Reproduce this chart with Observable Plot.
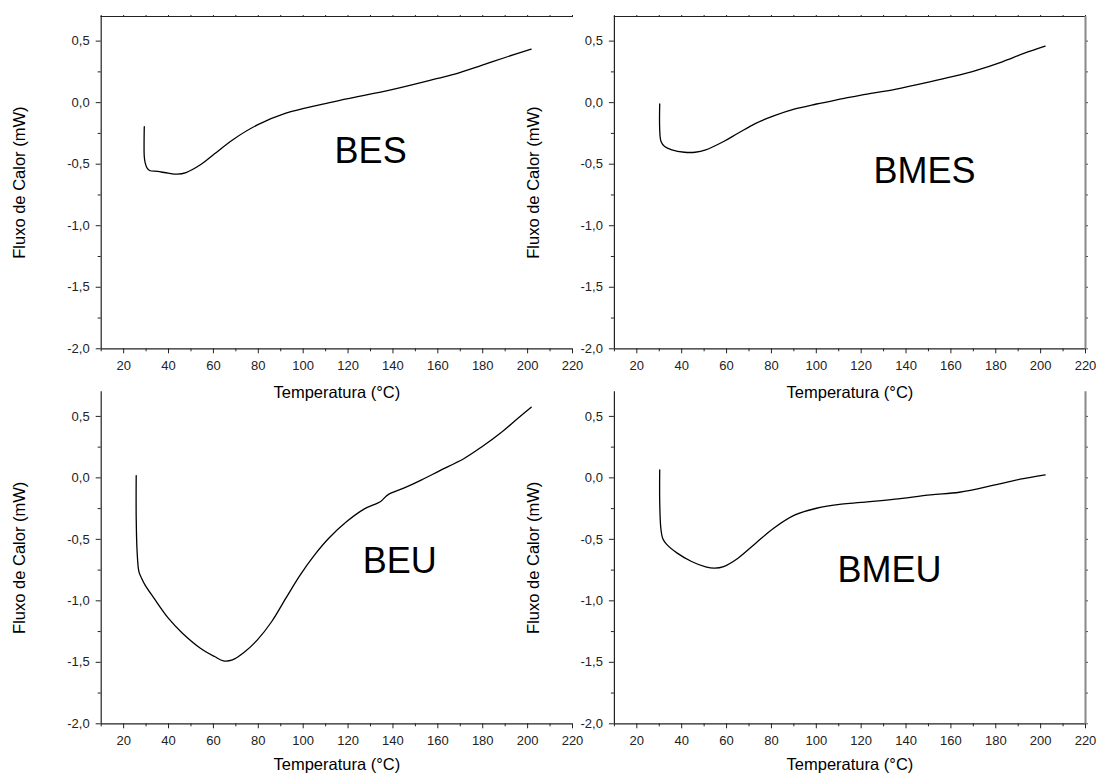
<!DOCTYPE html>
<html><head><meta charset="utf-8">
<script src="https://cdn.jsdelivr.net/npm/d3@7"></script>
<script src="https://cdn.jsdelivr.net/npm/@observablehq/plot@0.6"></script>
<style>
body{margin:0;background:#fff;}
#wrap{position:relative;width:1097px;height:774px;overflow:hidden;background:#fff;}
#wrap svg{position:absolute;}
</style></head><body><div id="wrap"></div>
<script>
// ---- data ----
const besT = [29.2, 29.2, 29.6, 30.4, 31.6, 35.1, 39.9, 43.9, 47.8, 54.2, 60.5, 68.5, 79.6, 92.3, 108.2, 119.4, 140, 159.9, 168.7, 179.8, 191, 201.6];
const besF = [-0.195, -0.44, -0.49, -0.53, -0.551, -0.559, -0.573, -0.581, -0.568, -0.505, -0.416, -0.303, -0.181, -0.086, -0.014, 0.03, 0.108, 0.197, 0.238, 0.305, 0.373, 0.435];

const bmesT = [30.2, 30.2, 30.8, 32.4, 35.6, 41.2, 46, 50.7, 58.7, 65.1, 73, 81, 90.5, 100.1, 111.2, 120, 135.1, 151, 160.6, 171.7, 182.9, 192.5, 202];
const bmesF = [-0.011, -0.22, -0.316, -0.357, -0.384, -0.403, -0.403, -0.384, -0.316, -0.249, -0.168, -0.108, -0.051, -0.011, 0.03, 0.062, 0.108, 0.17, 0.211, 0.265, 0.332, 0.4, 0.459];

const beuT = [25.6, 25.6, 26, 26.8, 28, 29.5, 33.5, 39.9, 46.2, 54.2, 60.5, 64.5, 68.5, 73.3, 79.6, 86, 92.3, 98.7, 105.1, 111.4, 119.4, 127.3, 134.5, 137.7, 144.8, 152.8, 160.7, 171.9, 179.8, 187.8, 195.7, 201.6];
const beuF = [0.019, -0.328, -0.599, -0.762, -0.816, -0.87, -0.978, -1.141, -1.263, -1.385, -1.453, -1.488, -1.48, -1.425, -1.317, -1.168, -0.978, -0.789, -0.626, -0.491, -0.355, -0.252, -0.192, -0.138, -0.084, -0.016, 0.057, 0.16, 0.255, 0.363, 0.485, 0.575];

const bmeuT = [30.2, 30.2, 30.7, 31.6, 33.2, 38, 44.4, 50.7, 54.7, 58.7, 65.1, 73, 81, 90.5, 100.1, 111.2, 120, 135.1, 151, 163.8, 179.7, 190.9, 202];
const bmeuF = [0.065, -0.192, -0.409, -0.496, -0.539, -0.612, -0.68, -0.724, -0.734, -0.721, -0.653, -0.531, -0.409, -0.301, -0.247, -0.214, -0.2, -0.173, -0.138, -0.117, -0.057, -0.011, 0.024];

const sampleNames = ["BES", "BMES", "BEU", "BMEU"];
const labelX = [114, 125.5, 126.5, 109.5];
const labelY = [-0.395, -0.56, -0.678, -0.749];

const xDomain = [10, 220];
const yDomain = [-2, 0.7];
const xMajor = [20, 40, 60, 80, 100, 120, 140, 160, 180, 200, 220];
const xMinor = [10, 30, 50, 70, 90, 110, 130, 150, 170, 190, 210];
const yMajor = [-2, -1.5, -1, -0.5, 0, 0.5];
const yMinor = [-1.75, -1.25, -0.75, -0.25, 0.25];
const xTitle = "Temperatura (°C)";
const yTitle = "Fluxo de Calor (mW)";

// ---- layout ----
const FONT = '"Liberation Sans", Arial, Helvetica, sans-serif';
const AX = "#222";
const panels = [
  {i: 0, T: besT, F: besF, left: 0, top: 0, width: 590, mL: 100.7, mR: 18, mT: 16, mB: 26.7, topLine: true, rightLine: false, xdy: 43.5},
  {i: 1, T: bmesT, F: bmesF, left: 513, top: 0, width: 584, mL: 100.9, mR: 12, mT: 16, mB: 26.7, topLine: true, rightLine: true, xdy: 43.5},
  {i: 2, T: beuT, F: beuF, left: 0, top: 375, width: 590, mL: 100.7, mR: 18, mT: 16.3, mB: 26.7, topLine: false, rightLine: false, xdy: 41},
  {i: 3, T: bmeuT, F: bmeuF, left: 513, top: 375, width: 584, mL: 100.9, mR: 12, mT: 16.3, mB: 26.7, topLine: false, rightLine: true, xdy: 41}
];

const fmt = d => d.toFixed(1).replace(".", ",");
const wrap = document.getElementById("wrap");

for (const p of panels) {
  const data = p.T.map((t, k) => ({t, f: p.F[k]}));
  const lab = [{name: sampleNames[p.i], x: labelX[p.i], y: labelY[p.i]}];
  const marks = [
    Plot.ruleX([xDomain[0]], {stroke: AX, strokeWidth: 1.2}),
    Plot.ruleY([yDomain[0]], {stroke: AX, strokeWidth: 1.2}),
    Plot.axisX({ticks: xMajor, tickSize: 5, tickPadding: 6.5, tickFormat: d => String(d), fontSize: 13, label: null, color: AX}),
    Plot.axisX({ticks: xMinor, tickSize: 3, tickFormat: () => "", label: null, color: AX}),
    Plot.axisY({ticks: yMajor, tickSize: 5, tickPadding: 6.5, tickFormat: fmt, fontSize: 13, label: null, color: AX}),
    Plot.axisY({ticks: yMinor, tickSize: 3, tickFormat: () => "", label: null, color: AX}),
    Plot.text([xTitle], {frameAnchor: "bottom", dy: p.xdy, textAnchor: "middle", lineAnchor: "middle", fontSize: 16.5, fill: "#000"}),
    Plot.text([yTitle], {frameAnchor: "left", dx: -81, rotate: -90, textAnchor: "middle", lineAnchor: "middle", fontSize: 16.5, fill: "#000"}),
    Plot.line(data, {x: "t", y: "f", stroke: "#000", strokeWidth: 1.3, curve: "catmull-rom"}),
    Plot.text(lab, {x: "x", y: "y", text: "name", fontSize: 36, textAnchor: "start", lineAnchor: "middle", fill: "#000"})
  ];
  if (p.topLine) {
    marks.push(Plot.ruleY([yDomain[1]], {stroke: AX, strokeWidth: 1.2}));
    marks.push(Plot.axisX({anchor: "top", ticks: xMajor.concat(xMinor), tickSize: 2, tickFormat: () => "", label: null, color: AX}));
  }
  if (p.rightLine) {
    marks.push(Plot.ruleX([xDomain[1]], {stroke: "#888", strokeWidth: 2}));
    marks.push(Plot.axisY({anchor: "right", ticks: yMajor.concat(yMinor), tickSize: 2, tickFormat: () => "", label: null, color: "#555"}));
  }
  const svg = Plot.plot({
    width: p.width,
    height: 375,
    marginLeft: p.mL, marginRight: p.mR, marginTop: p.mT, marginBottom: p.mB,
    x: {domain: xDomain},
    y: {domain: yDomain},
    style: {background: "transparent", overflow: "visible", fontFamily: FONT, fontSize: "13px", color: "#000"},
    marks
  });
  svg.style.left = p.left + "px";
  svg.style.top = p.top + "px";
  wrap.appendChild(svg);
}
</script>
</body></html>
